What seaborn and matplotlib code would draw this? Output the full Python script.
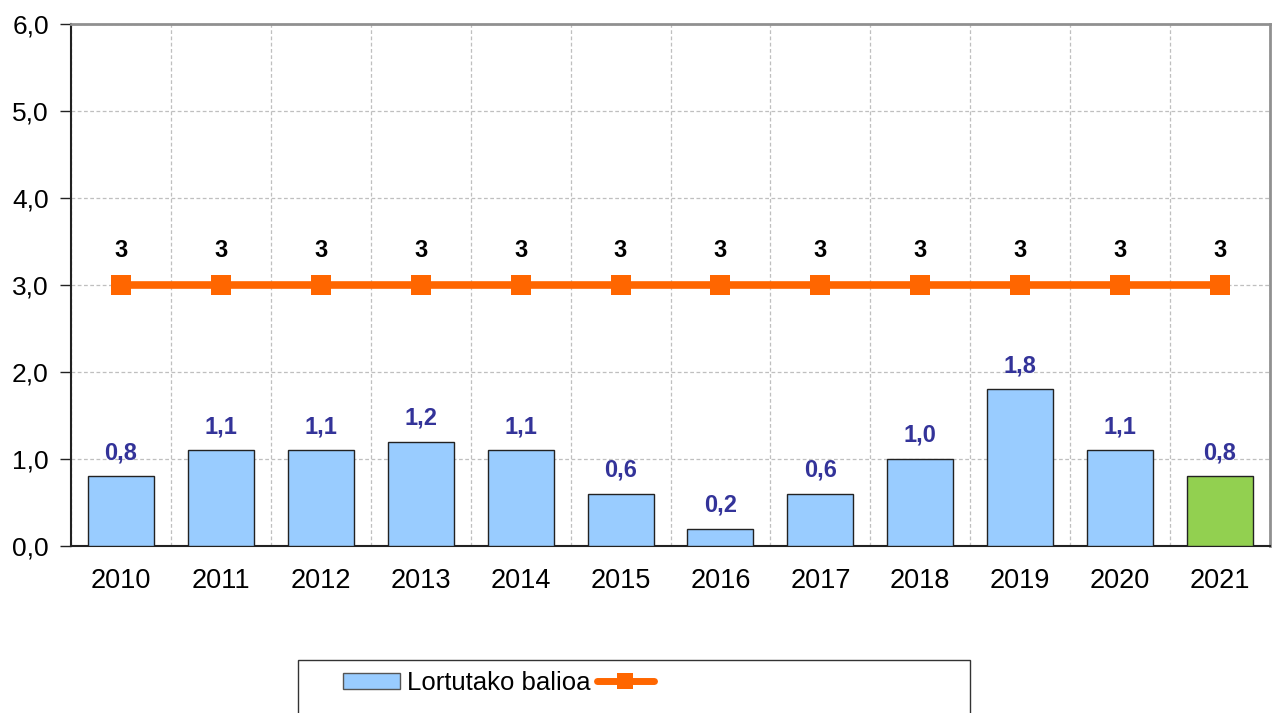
"""
Lortutako balioa vs helburua (2010-2021), bar + target line.
"""

import matplotlib
matplotlib.use("Agg")
import matplotlib.pyplot as plt
from matplotlib.patches import Patch, Rectangle
from matplotlib.lines import Line2D
from matplotlib.ticker import FuncFormatter, FixedLocator
import seaborn as sns
import numpy as np

# Data
years = ["2010", "2011", "2012", "2013", "2014", "2015",
         "2016", "2017", "2018", "2019", "2020", "2021"]
achieved = [0.8, 1.1, 1.1, 1.2, 1.1, 0.6, 0.2, 0.6, 1.0, 1.8, 1.1, 0.8]
target = [3, 3, 3, 3, 3, 3, 3, 3, 3, 3, 3, 3]
bar_label = "Lortutako balioa"

BAR_BLUE = "#99CCFF"
BAR_GREEN = "#92D050"
LINE_ORANGE = "#FF6600"
LABEL_BLUE = "#333399"

sns.set_style("white")
plt.rcParams['font.family'] = ['Liberation Sans', 'DejaVu Sans']
plt.rcParams['text.color'] = 'black'
plt.rcParams['xtick.labelcolor'] = 'black'
plt.rcParams['ytick.labelcolor'] = 'black'

fig = plt.figure(figsize=(12.76, 7.13), dpi=100)
ax = fig.add_axes([71 / 1276, 1 - 546 / 713, (1270 - 71) / 1276, (546 - 24) / 713])

colors = [BAR_BLUE] * (len(years) - 1) + [BAR_GREEN]
sns.barplot(x=years, y=achieved, hue=years, palette=colors, legend=False,
            width=0.66, edgecolor="#222222", linewidth=1.0, saturation=1,
            ax=ax, zorder=3)
sns.pointplot(x=years, y=target, color=LINE_ORANGE, markers="s",
              markersize=15, markeredgewidth=0, linewidth=5.5, ax=ax, zorder=4)

# value labels
for i, v in enumerate(achieved):
    ax.annotate(f"{v:.1f}".replace(".", ","), (i, v), xytext=(0, 17),
                textcoords="offset points", ha="center", va="center",
                fontsize=17, fontweight="bold", color=LABEL_BLUE)
for i, v in enumerate(target):
    ax.annotate(f"{v}", (i, v), xytext=(0, 25),
                textcoords="offset points", ha="center", va="center",
                fontsize=17, fontweight="bold", color="black")

# axes
ax.set_xlim(-0.5, len(years) - 0.5)
ax.set_ylim(0, 6)
ax.set_yticks(np.arange(0, 6.1, 1))
ax.yaxis.set_major_formatter(FuncFormatter(lambda y, _: f"{y:.1f}".replace(".", ",")))
ax.xaxis.set_minor_locator(FixedLocator(np.arange(-0.5, len(years), 1)))
ax.tick_params(axis="x", which="major", length=5, width=1, color="#222222",
               labelsize=19.5, pad=11)
ax.tick_params(axis="x", which="minor", length=8, width=1, color="#222222")
ax.tick_params(axis="y", which="major", left=True, length=8, width=1,
               color="#222222", labelsize=19, pad=8)
ax.grid(True, axis="y", which="major", linestyle=(0, (3, 2)), color="#BFBFBF", lw=0.9)
ax.grid(True, axis="x", which="minor", linestyle=(0, (3, 2)), color="#BFBFBF", lw=0.9)
ax.grid(False, axis="x", which="major")
ax.set_axisbelow(True)
ax.set_xlabel("")
ax.set_ylabel("")
for side in ["left", "bottom"]:
    ax.spines[side].set_color("#222222")
    ax.spines[side].set_linewidth(1.5)
for side in ["top", "right"]:
    ax.spines[side].set_visible(True)
    ax.spines[side].set_color("#909090")
    ax.spines[side].set_linewidth(2)

# legend box
fig.patches.append(Rectangle((298 / 1276, -0.05), (970 - 298) / 1276, 0.05 + 1 - 660 / 713,
                             transform=fig.transFigure, fill=False,
                             edgecolor="#333333", linewidth=1.0))
handles = [Patch(facecolor=BAR_BLUE, edgecolor="#555555", linewidth=1),
           Line2D([], [], color=LINE_ORANGE, lw=5, marker="s", markersize=11,
                  markeredgewidth=0)]
fig.legend(handles, [bar_label, ""], loc="center left",
           bbox_to_anchor=(325 / 1276, 1 - 683 / 713), ncol=2, frameon=False,
           fontsize=18.5, handlelength=2.2, handleheight=0.6, handletextpad=0.3,
           columnspacing=0.25, borderpad=0.2)

fig.savefig("out.png", dpi=100)
